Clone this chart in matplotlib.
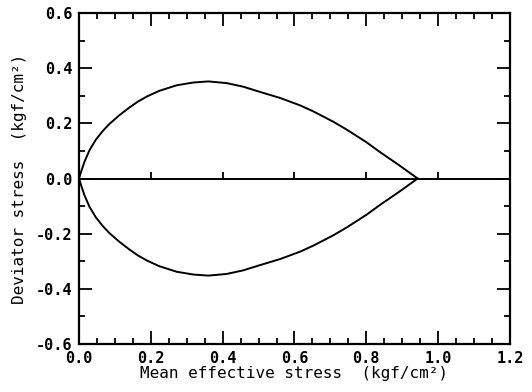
import numpy as np
import matplotlib
matplotlib.use("Agg")
import matplotlib.pyplot as plt
from matplotlib.ticker import MultipleLocator

# yield surface (upper half, lower half is its mirror)
p_mean = [0.0, 0.006, 0.015, 0.029, 0.047, 0.066, 0.084, 0.112, 0.14,
          0.163, 0.19, 0.224, 0.272, 0.318, 0.36, 0.411, 0.457, 0.504,
          0.56, 0.616, 0.653, 0.708, 0.746, 0.801, 0.839, 0.894, 0.943]
q_dev = [0.0, 0.025, 0.06, 0.102, 0.141, 0.172, 0.197, 0.229, 0.257,
         0.278, 0.298, 0.318, 0.338, 0.348, 0.352, 0.346, 0.333, 0.314,
         0.292, 0.265, 0.243, 0.206, 0.177, 0.131, 0.095, 0.046, 0.0]

x_ticks = [0.0, 0.2, 0.4, 0.6, 0.8, 1.0, 1.2]
y_ticks = [-0.6, -0.4, -0.2, 0.0, 0.2, 0.4, 0.6]

plt.rcParams['font.family'] = ['DejaVu Sans Mono', 'DejaVu Sans']
plt.rcParams['font.weight'] = 'bold'

fig = plt.figure(figsize=(5.32, 3.92), dpi=100)
ax = fig.add_axes([0.1485, 0.1224, 0.81, 0.8444])

p = np.array(p_mean)
q = np.array(q_dev)
ax.plot(p, q, color='black', lw=1.4, solid_joinstyle='round')
ax.plot(p, -q, color='black', lw=1.4, solid_joinstyle='round')
ax.axhline(0.0, color='black', lw=1.4)

ax.set_xlim(0.0, 1.2)
ax.set_ylim(-0.6, 0.6)
ax.set_xticks(x_ticks)
ax.set_yticks(y_ticks)
ax.set_xticklabels([f"{v:.1f}" for v in x_ticks])
ax.set_yticklabels([f"{v:.1f}" for v in y_ticks])
ax.xaxis.set_minor_locator(MultipleLocator(0.05))
ax.yaxis.set_minor_locator(MultipleLocator(0.1))

ax.tick_params(which='both', direction='in', top=True, right=True,
               width=1.3, labelsize=11)
ax.tick_params(which='major', length=9.5, pad=5)
ax.tick_params(which='minor', length=4.5)

# small upward ticks on the zero line
ax.plot(x_ticks[1:-1], [0.0] * (len(x_ticks) - 2), ls='none', marker=2,
        ms=5, mew=1.3, color='black')

for s in ax.spines.values():
    s.set_linewidth(1.6)

ax.set_xlabel("Mean effective stress  (kgf/cm²)", fontsize=11.5, labelpad=0)
ax.set_ylabel("Deviator stress  (kgf/cm²)", fontsize=11.5, labelpad=6)

fig.savefig("out.png", dpi=100)
